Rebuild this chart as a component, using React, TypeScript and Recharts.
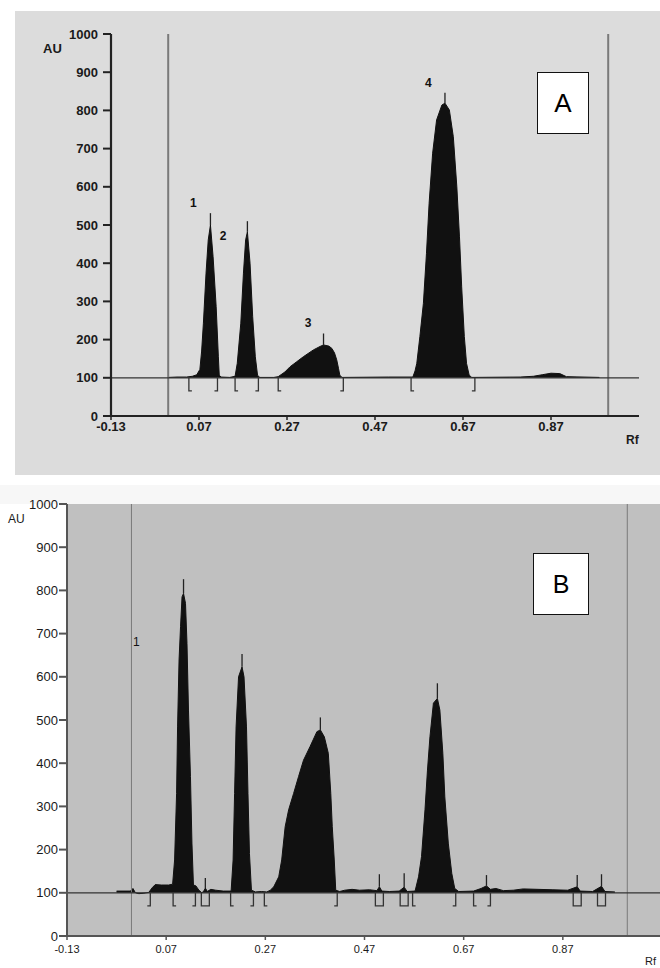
import React from 'react'
import { ComposedChart, Area, Scatter, XAxis, YAxis, ReferenceLine, CartesianGrid } from 'recharts'

const FONT = '"Liberation Sans", Arial, Helvetica, sans-serif'

const RF_TICKS = [-0.13, 0.07, 0.27, 0.47, 0.67, 0.87]
const AU_TICKS = [0, 100, 200, 300, 400, 500, 600, 700, 800, 900, 1000]
const RF_DOMAIN = [-0.13, 1.07]
const BASELINE = 100
const START_FRONT = [0, 1.0] // application line and solvent front

// densitogram A: [Rf, AU]
const traceA = [
  [0.0, 101], [0.02, 102], [0.042, 102], [0.055, 104], [0.065, 108], [0.072, 122], [0.076, 170],
  [0.08, 243], [0.086, 374], [0.091, 461], [0.096, 500], [0.102, 417], [0.109, 286], [0.114, 155],
  [0.116, 107], [0.12, 102], [0.14, 101], [0.152, 104], [0.157, 138], [0.165, 243], [0.171, 374],
  [0.176, 461], [0.18, 482], [0.186, 400], [0.192, 260], [0.198, 155], [0.203, 107], [0.208, 101],
  [0.24, 101], [0.25, 103], [0.265, 115], [0.277, 129], [0.292, 142], [0.307, 155], [0.33, 173],
  [0.345, 182], [0.353, 186], [0.365, 183], [0.372, 177], [0.378, 165], [0.383, 147], [0.387, 125],
  [0.39, 107], [0.395, 101], [0.5, 102], [0.556, 102], [0.561, 118], [0.565, 138], [0.572, 208],
  [0.58, 295], [0.587, 426], [0.593, 557], [0.601, 688], [0.61, 775], [0.622, 814], [0.629, 819],
  [0.639, 801], [0.648, 731], [0.656, 600], [0.662, 469], [0.667, 338], [0.673, 208], [0.678, 138],
  [0.684, 107], [0.69, 101], [0.8, 102], [0.83, 104], [0.85, 108], [0.87, 112], [0.89, 111],
  [0.905, 103], [0.98, 101],
]
// peak max ticks: [Rf, peak AU, tick top AU]
const markersA = [[0.096, 500, 531], [0.18, 482, 510], [0.353, 186, 216], [0.629, 819, 846]]
const bracketsA = [[0.047, 'L'], [0.112, 'R'], [0.152, 'L'], [0.205, 'R'], [0.25, 'L'], [0.398, 'R'], [0.552, 'L'], [0.697, 'R']]
const labelsA = [[0.057, 557, '1'], [0.125, 472, '2'], [0.318, 244, '3'], [0.591, 873, '4']]

// densitogram B
const traceB = [
  [-0.03, 104], [-0.002, 104], [0.003, 110], [0.008, 100], [0.015, 98], [0.025, 99], [0.035, 101],
  [0.042, 112], [0.048, 119], [0.06, 118], [0.075, 118], [0.083, 120], [0.087, 176], [0.091, 330],
  [0.093, 484], [0.096, 639], [0.099, 716], [0.102, 785], [0.105, 793], [0.109, 770], [0.112, 677],
  [0.115, 523], [0.119, 369], [0.122, 215], [0.125, 118], [0.13, 116], [0.136, 106], [0.142, 100],
  [0.146, 104], [0.149, 111], [0.153, 103], [0.16, 108], [0.17, 106], [0.185, 104], [0.201, 104],
  [0.205, 176], [0.208, 330], [0.211, 484], [0.216, 600], [0.223, 623], [0.227, 600], [0.232, 484],
  [0.235, 330], [0.238, 191], [0.242, 106], [0.25, 102], [0.262, 103], [0.273, 102], [0.28, 106],
  [0.287, 114], [0.297, 137], [0.303, 176], [0.31, 253], [0.317, 292], [0.327, 330], [0.337, 369],
  [0.347, 407], [0.36, 438], [0.374, 473], [0.381, 477], [0.389, 461], [0.397, 423], [0.402, 330],
  [0.405, 253], [0.409, 176], [0.412, 106], [0.42, 103], [0.43, 106], [0.445, 108], [0.46, 106],
  [0.48, 107], [0.495, 105], [0.5, 114], [0.505, 104], [0.52, 103], [0.54, 104], [0.55, 113],
  [0.556, 103], [0.572, 104], [0.579, 137], [0.585, 184], [0.592, 292], [0.597, 384], [0.602, 461],
  [0.609, 539], [0.617, 550], [0.622, 523], [0.628, 423], [0.632, 322], [0.639, 215], [0.646, 145],
  [0.652, 110], [0.66, 103], [0.69, 104], [0.705, 110], [0.716, 116], [0.724, 108], [0.735, 110],
  [0.75, 105], [0.77, 106], [0.79, 109], [0.82, 108], [0.85, 107], [0.88, 106], [0.899, 114],
  [0.905, 104], [0.93, 103], [0.948, 115], [0.955, 103], [0.975, 102],
]
const markersB = [
  [0.105, 793, 826], [0.149, 111, 134], [0.223, 623, 653], [0.381, 477, 506], [0.5, 114, 143],
  [0.55, 113, 145], [0.617, 550, 585], [0.716, 116, 141], [0.899, 114, 141], [0.948, 115, 143],
]
const bracketsB = [
  [0.038, 'R'], [0.084, 'L'], [0.129, 'R'], [0.149, 'box'], [0.2, 'L'], [0.246, 'R'], [0.268, 'L'],
  [0.415, 'R'], [0.5, 'box'], [0.55, 'box'], [0.567, 'L'], [0.654, 'R'], [0.69, 'L'], [0.724, 'R'],
  [0.899, 'box'], [0.948, 'box'],
]
const labelsB = [[0.003, 680, '1']]

const toPts = (arr: any[]) => arr.map(([rf, au]) => ({ rf, au }))

function bracketShape(depth: number, color: string, sw: number) {
  return (p: any) => {
    const { cx, cy, payload } = p
    let d = ''
    if (payload.kind === 'L') d = `M${cx},${cy} L${cx},${cy + depth} L${cx + 3},${cy + depth}`
    else if (payload.kind === 'R') d = `M${cx},${cy} L${cx},${cy + depth} L${cx - 3},${cy + depth}`
    else d = `M${cx - 4},${cy} L${cx - 4},${cy + depth} L${cx + 4},${cy + depth} L${cx + 4},${cy}`
    return <path d={d} stroke={color} strokeWidth={sw} fill="none" />
  }
}

function textShape(size: number, weight: string, anchor: string) {
  return (p: any) => (
    <text x={p.cx} y={p.cy} textAnchor={anchor} dominantBaseline="central"
      fontSize={size} fontWeight={weight} fontFamily={FONT} fill="#111" stroke="none">{p.payload.text}</text>
  )
}

interface PanelProps {
  trace: any[]; markers: any[]; brackets: any[]; labels: any[]
  width: number; height: number; margin: any; yWidth: number
  axisColor: string; axisWidth: number; yFont: number; xFont: number; weight: string
  xTickMargin: number; yTickMargin: number; plotFill?: string
  frontWidth: number; labelAnchor: string
}

function Densitogram(p: PanelProps) {
  const data = toPts(p.trace)
  const brackets = p.brackets.map(([rf, kind]) => ({ rf, au: BASELINE, kind }))
  const labels = p.labels.map(([rf, au, text]) => ({ rf, au, text }))
  const tickStyle = (size: number) => ({ fontSize: size, fontWeight: p.weight, fill: '#1a1a1a', fontFamily: FONT })
  return (
    <ComposedChart width={p.width} height={p.height} margin={p.margin}>
      {p.plotFill && <CartesianGrid horizontal={false} vertical={false} fill={p.plotFill} stroke="none" />}
      <XAxis type="number" dataKey="rf" domain={RF_DOMAIN} ticks={RF_TICKS} interval={0} allowDataOverflow
        height={30} tickSize={4} tickMargin={p.xTickMargin} tickFormatter={(v: number) => v.toFixed(2)}
        axisLine={{ stroke: p.axisColor, strokeWidth: p.axisWidth }} tickLine={{ stroke: p.axisColor, strokeWidth: 1.5 }}
        tick={tickStyle(p.xFont)} />
      <YAxis type="number" dataKey="au" domain={[0, 1000]} ticks={AU_TICKS} interval={0} allowDataOverflow
        width={p.yWidth} tickSize={8} tickMargin={p.yTickMargin}
        axisLine={{ stroke: p.axisColor, strokeWidth: p.axisWidth }} tickLine={{ stroke: p.axisColor, strokeWidth: 2 }}
        tick={tickStyle(p.yFont)} />
      {START_FRONT.map((x) => (
        <ReferenceLine key={x} x={x} stroke="#7a7a7a" strokeWidth={p.frontWidth} />
      ))}
      <ReferenceLine y={BASELINE} stroke="#333" strokeWidth={1.2} />
      <Area data={data} dataKey="au" type="linear" baseValue={BASELINE} stroke="#111" strokeWidth={1}
        fill="#111" fillOpacity={1} dot={false} activeDot={false} isAnimationActive={false} />
      {p.markers.map(([rf, top, tip], i) => (
        <ReferenceLine key={i} segment={[{ x: rf, y: top }, { x: rf, y: tip }]} stroke="#222" strokeWidth={1.3} />
      ))}
      <Scatter data={brackets} dataKey="au" shape={bracketShape(13, '#333', 1.3)} isAnimationActive={false} />
      <Scatter data={labels} dataKey="au" shape={textShape(12, p.weight, p.labelAnchor)} isAnimationActive={false} />
    </ComposedChart>
  )
}

const abs = (left: number, top: number, extra: any = {}) => ({ position: 'absolute' as const, left, top, ...extra })

export default function App() {
  return (
    <div style={abs(0, 0, { width: 660, height: 968, overflow: 'hidden', background: '#fff', fontFamily: FONT })}>
      {/* panel A */}
      <div style={abs(15, 11, { width: 645, height: 464, background: '#dcdcdc' })} />
      <div style={abs(0, 0)}>
        <Densitogram trace={traceA} markers={markersA} brackets={bracketsA} labels={labelsA}
          width={660} height={480} margin={{ top: 34, right: 21, bottom: 34, left: 0 }} yWidth={111}
          axisColor="#222" axisWidth={2.2} yFont={13} xFont={13} weight="bold" xTickMargin={2} yTickMargin={5}
          frontWidth={2} labelAnchor="middle" />
      </div>
      <div style={abs(43, 41, { fontSize: 13, fontWeight: 'bold', color: '#1a1a1a' })}>AU</div>
      <div style={abs(626, 433, { fontSize: 12, fontWeight: 'bold', color: '#1a1a1a' })}>Rf</div>
      <div style={abs(537, 72, { width: 50, height: 60, background: '#fff', border: '1.5px solid #111',
        display: 'flex', alignItems: 'center', justifyContent: 'center', fontSize: 26, color: '#000' })}>A</div>

      {/* panel B */}
      <div style={abs(0, 485, { width: 660, height: 19, background: '#f7f7f7' })} />
      <div style={abs(0, 480)}>
        <Densitogram trace={traceB} markers={markersB} brackets={bracketsB} labels={labelsB}
          width={700} height={488} margin={{ top: 24, right: 38, bottom: 2, left: 0 }} yWidth={67}
          axisColor="#555" axisWidth={2} yFont={13} xFont={11} weight="normal" xTickMargin={5} yTickMargin={1}
          plotFill="#c0c0c0" frontWidth={1} labelAnchor="start" />
      </div>
      <div style={abs(8, 512, { fontSize: 12, color: '#1a1a1a' })}>AU</div>
      <div style={abs(645, 955, { fontSize: 11, color: '#1a1a1a' })}>Rf</div>
      <div style={abs(533, 553, { width: 54, height: 60, background: '#fff', border: '1.5px solid #111',
        display: 'flex', alignItems: 'center', justifyContent: 'center', fontSize: 25, color: '#000' })}>B</div>
    </div>
  )
}
